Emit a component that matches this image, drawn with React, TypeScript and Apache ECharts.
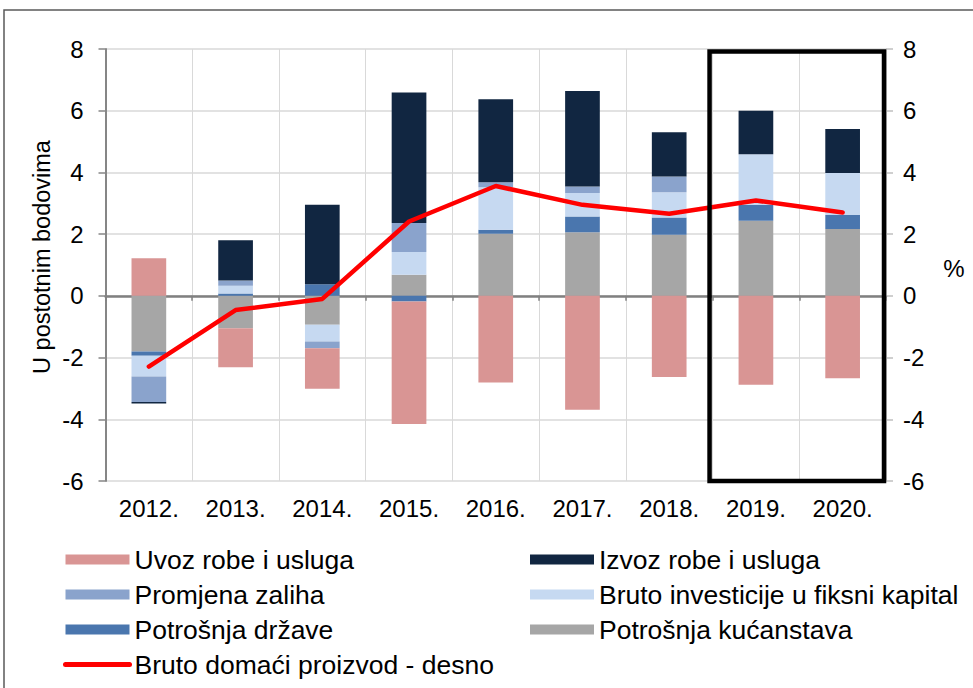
import React, { useEffect, useRef } from "react";
import * as echarts from "echarts";

const categories = ["2012.", "2013.", "2014.", "2015.", "2016.", "2017.", "2018.", "2019.", "2020."];
const kucanstava = [-1.8, -1.05, -0.94, 0.68, 2.01, 2.06, 1.98, 2.43, 2.17];
const drzave = [-0.14, 0.08, 0.38, -0.18, 0.13, 0.51, 0.56, 0.52, 0.45];
const investicije = [-0.67, 0.25, -0.54, 0.74, 1.38, 0.76, 0.82, 1.64, 1.36];
const zalihe = [-0.83, 0.17, -0.22, 0.94, 0.16, 0.21, 0.51, 0.0, 0.0];
const izvoz = [-0.05, 1.3, 2.57, 4.23, 2.69, 3.1, 1.43, 1.41, 1.43];
const uvoz = [1.22, -1.26, -1.31, -3.97, -2.81, -3.69, -2.63, -2.88, -2.67];
const bdp = [-2.29, -0.46, -0.1, 2.41, 3.56, 2.95, 2.66, 3.09, 2.7];

const FONT = "'Liberation Sans', Arial, sans-serif";
const FS = 24;
const LFS = 26.5;

export default function App() {
  const ref = useRef<HTMLDivElement>(null);
  useEffect(() => {
    const chart = echarts.init(ref.current!, null, { renderer: "svg" });
    const bar = (name: string, data: number[], color: string) => ({
      name,
      type: "bar",
      stack: "total",
      barWidth: "40%",
      data,
      itemStyle: { color },
      emphasis: { disabled: true },
    });
    const legendText = { fontFamily: FONT, fontSize: LFS, color: "#000" };
    const legendCommon = {
      orient: "vertical",
      top: 546,
      padding: 0,
      itemWidth: 64,
      itemHeight: 10,
      itemGap: 8,
      textStyle: legendText,
    };
    const rectItem = (name: string) => ({ name, icon: "rect" });
    const option: any = {
      animation: false,
      backgroundColor: "#fff",
      textStyle: { fontFamily: FONT },
      grid: { left: 105.5, right: 87, top: 49, bottom: 207 },
      legend: [
        {
          ...legendCommon,
          left: 63,
          data: [
            rectItem("Uvoz robe i usluga"),
            rectItem("Promjena zaliha"),
            rectItem("Potrošnja države"),
            {
              name: "Bruto domaći proizvod - desno",
              itemStyle: { opacity: 0 },
              lineStyle: { width: 5, cap: "round", color: "#FF0000" },
            },
          ],
        },
        {
          ...legendCommon,
          left: 530,
          data: [
            rectItem("Izvoz robe i usluga"),
            rectItem("Bruto investicije u fiksni kapital"),
            rectItem("Potrošnja kućanstava"),
          ],
        },
      ],
      xAxis: [
        {
          type: "category",
          data: categories,
          axisLine: { show: false, onZero: false },
          axisTick: { show: false },
          axisLabel: { fontFamily: FONT, fontSize: FS, color: "#000", margin: 15 },
          splitLine: { show: true, lineStyle: { color: "#D9D9D9", width: 1 } },
        },
        {
          type: "category",
          data: categories,
          position: "bottom",
          axisLine: { show: true, onZero: true, onZeroAxisIndex: 0, lineStyle: { color: "#808080", width: 2.5 } },
          axisTick: { show: true, length: 5, lineStyle: { color: "#808080", width: 1.5 } },
          axisLabel: { show: false },
          splitLine: { show: false },
        },
      ],
      yAxis: [
        {
          type: "value",
          min: -6,
          max: 8,
          interval: 2,
          axisLine: { show: true, lineStyle: { color: "#868686", width: 2 } },
          axisTick: { show: true, length: 7, lineStyle: { color: "#868686", width: 1.5 } },
          axisLabel: { fontFamily: FONT, fontSize: FS, color: "#000", margin: 22 },
          splitLine: { show: true, lineStyle: { color: "#D9D9D9", width: 1.5 } },
        },
        {
          type: "value",
          min: -6,
          max: 8,
          interval: 2,
          position: "right",
          axisLine: { show: true, lineStyle: { color: "#BFBFBF", width: 1 } },
          axisTick: { show: true, length: 7, lineStyle: { color: "#BFBFBF", width: 1.5 } },
          axisLabel: { fontFamily: FONT, fontSize: FS, color: "#000", margin: 17 },
          splitLine: { show: false },
        },
      ],
      series: [
        bar("Potrošnja kućanstava", kucanstava, "#A6A6A6"),
        bar("Potrošnja države", drzave, "#4A76AE"),
        bar("Bruto investicije u fiksni kapital", investicije, "#C6D9F1"),
        bar("Promjena zaliha", zalihe, "#8AA3CC"),
        bar("Izvoz robe i usluga", izvoz, "#112641"),
        bar("Uvoz robe i usluga", uvoz, "#D99594"),
        {
          name: "Bruto domaći proizvod - desno",
          type: "line",
          yAxisIndex: 1,
          data: bdp,
          symbol: "none",
          z: 10,
          lineStyle: { color: "#FF0000", width: 4.5, cap: "round" },
          itemStyle: { color: "#FF0000" },
          emphasis: { disabled: true },
        },
      ],
    };
    chart.setOption(option);

    const xa = chart.convertToPixel({ xAxisIndex: 0 }, categories[7]) as number;
    const xb = chart.convertToPixel({ xAxisIndex: 0 }, categories[8]) as number;
    const half = (xb - xa) / 2;
    const yTop = chart.convertToPixel({ yAxisIndex: 0 }, 8) as number;
    const yBot = chart.convertToPixel({ yAxisIndex: 0 }, -6) as number;
    const bx0 = xa - half - 3;
    const bx1 = xb + half - 2;
    const by0 = yTop + 2.5;

    chart.setOption({
      graphic: [
        {
          type: "rect",
          silent: true,
          shape: { x: 4, y: 10, width: 1100, height: 800 },
          style: { fill: "none", stroke: "#595959", lineWidth: 1.5 },
          z: 100,
        },
        {
          type: "rect",
          silent: true,
          shape: { x: bx0, y: by0, width: bx1 - bx0, height: yBot - by0 },
          style: { fill: "none", stroke: "#000", lineWidth: 4.5 },
          z: 100,
        },
        {
          type: "text",
          silent: true,
          x: 42,
          y: 257,
          rotation: Math.PI / 2,
          style: {
            text: "U postotnim bodovima",
            font: `23.5px ${FONT}`,
            fill: "#000",
            align: "center",
            verticalAlign: "middle",
          },
        },
        {
          type: "text",
          silent: true,
          x: 954,
          y: 268,
          style: {
            text: "%",
            font: `${FS}px ${FONT}`,
            fill: "#000",
            align: "center",
            verticalAlign: "middle",
          },
        },
      ],
    });
    return () => chart.dispose();
  }, []);
  return (
    <div
      ref={ref}
      style={{ position: "fixed", left: 0, top: 0, width: 973, height: 688, background: "#fff" }}
    />
  );
}
